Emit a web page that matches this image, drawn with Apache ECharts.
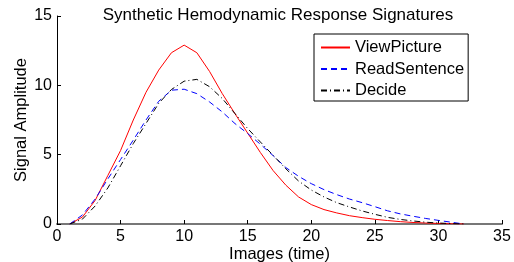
<!DOCTYPE html>
<html>
<head>
<meta charset="utf-8">
<script src="https://cdn.jsdelivr.net/npm/echarts@6/dist/echarts.min.js"></script>
<style>
    html, body { margin: 0; padding: 0; background: #fff; }
    #chart { width: 514px; height: 262px; }
</style>
</head>
<body>
<div id="chart"></div>
<script>
// image index 1..32
const images = [1,2,3,4,5,6,7,8,9,10,11,12,13,14,15,16,17,18,19,20,21,22,23,24,25,26,27,28,29,30,31,32];
const viewPicture = [0,0.5,1.7,3.5,5.3,7.5,9.5,11.1,12.35,12.9,12.35,11.0,9.4,7.95,6.55,5.15,3.85,2.8,1.95,1.4,1.04,0.8,0.6,0.46,0.34,0.25,0.17,0.11,0.07,0.04,0.02,0];
const readSentence = [0,0.65,1.8,3.25,4.65,6.05,7.5,8.85,9.65,9.72,9.4,8.8,8.08,7.24,6.52,5.75,4.93,4.07,3.44,2.91,2.48,2.12,1.8,1.54,1.25,0.95,0.73,0.56,0.4,0.26,0.13,0];
const decide = [0,0.35,1.3,2.6,4.2,5.8,7.25,8.7,9.7,10.3,10.43,9.9,9.05,7.96,6.88,5.91,4.95,3.98,3.1,2.45,1.95,1.54,1.23,0.94,0.7,0.48,0.33,0.22,0.13,0.07,0.03,0];
const xTicks = [0,5,10,15,20,25,30,35];
const yTicks = [0,5,10,15];

const fontFam = 'Liberation Sans, Arial, Helvetica, sans-serif';

function pairs(vals){
    return images.map((x, i) => [x, vals[i]]);
}

let chart = echarts.init(document.getElementById('chart'));

let option = {
    animation: false,
    backgroundColor: '#fff',
    title: {
        text: 'Synthetic Hemodynamic Response Signatures',
        left: 278,
        top: 7,
        padding: 0,
        textAlign: 'center',
        textStyle: {
            fontFamily: fontFam,
            fontSize: 17,
            fontWeight: 'normal',
            color: '#000'
        }
    },
    legend: {
        orient: 'vertical',
        left: 314,
        top: 34,
        padding: [5, 4, 2, 6],
        itemGap: 4.5,
        itemWidth: 29,
        itemHeight: 14,
        itemStyle: { opacity: 0 },
        backgroundColor: '#fff',
        borderColor: '#000',
        borderWidth: 1,
        borderRadius: 0,
        textStyle: {
            fontFamily: fontFam,
            fontSize: 16.5,
            color: '#000'
        },
        data: ['ViewPicture', 'ReadSentence', 'Decide']
    },
    grid: {
        left: 57,
        right: 12,
        top: 16,
        bottom: 38,
        containLabel: false,
        outerBoundsMode: 'none'
    },
    xAxis: {
        type: 'value',
        min: xTicks[0],
        max: xTicks[xTicks.length - 1],
        interval: 5,
        name: 'Images (time)',
        nameLocation: 'middle',
        nameGap: 22,
        nameMoveOverlap: false,
        nameTextStyle: { fontFamily: fontFam, fontSize: 16.5, color: '#000' },
        axisLine: { onZero: false, lineStyle: { color: '#777', width: 2 } },
        axisTick: { inside: true, length: 4, lineStyle: { color: '#000' } },
        axisLabel: { fontFamily: fontFam, fontSize: 16, color: '#000', margin: 5 },
        splitLine: { show: false }
    },
    yAxis: {
        type: 'value',
        min: yTicks[0],
        max: yTicks[yTicks.length - 1],
        interval: 5,
        name: 'Signal Amplitude',
        nameLocation: 'middle',
        nameRotate: 90,
        nameGap: 27,
        nameMoveOverlap: false,
        nameTextStyle: { fontFamily: fontFam, fontSize: 16.5, color: '#000' },
        axisLine: { show: true, lineStyle: { color: '#000', width: 1 } },
        axisTick: { show: true, inside: true, length: 4, lineStyle: { color: '#000' } },
        axisLabel: { fontFamily: fontFam, fontSize: 16, color: '#000', margin: 5 },
        splitLine: { show: false }
    },
    series: [
        {
            name: 'ViewPicture',
            type: 'line',
            symbol: 'none',
            color: '#ff0000',
            lineStyle: { color: '#ff0000', width: 1 },
            data: pairs(viewPicture)
        },
        {
            name: 'ReadSentence',
            type: 'line',
            symbol: 'none',
            color: '#0000ff',
            lineStyle: { color: '#0000ff', width: 1, type: [6, 4] },
            data: pairs(readSentence)
        },
        {
            name: 'Decide',
            type: 'line',
            symbol: 'none',
            color: '#000',
            lineStyle: { color: '#000', width: 1, type: [6, 3, 1, 3] },
            data: pairs(decide)
        }
    ]
};

chart.setOption(option);
</script>
</body>
</html>
